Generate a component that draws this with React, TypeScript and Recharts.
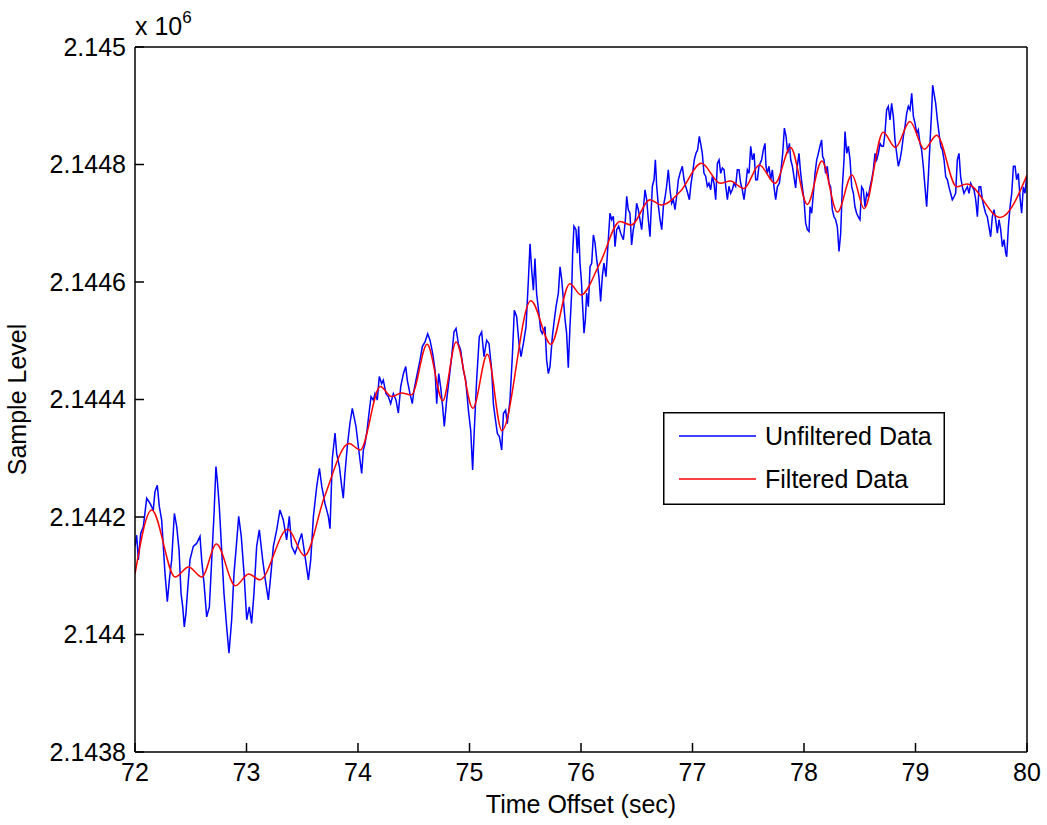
import React from 'react';
import { LineChart, Line, XAxis, YAxis, Legend, Customized } from 'recharts';

const FONT = '"Liberation Sans", Arial, Helvetica, sans-serif';

const xTicks = [72, 73, 74, 75, 76, 77, 78, 79, 80];
const yTicks = [2143800, 2144000, 2144200, 2144400, 2144600, 2144800, 2145000];

const seriesNames = ['Unfiltered Data', 'Filtered Data'];
const seriesColors = ['#0000ff', '#ff0000'];

// raw samples (sec, level)
const blueTime = [
  72.0, 72.015, 72.03, 72.051, 72.075, 72.105, 72.135, 72.164, 72.179, 72.2, 72.218, 72.239, 72.254, 72.269, 72.29,
  72.308, 72.329, 72.353, 72.374, 72.395, 72.413, 72.428, 72.442, 72.457, 72.472, 72.493, 72.523, 72.553, 72.583,
  72.598, 72.619, 72.643, 72.667, 72.688, 72.709, 72.726, 72.738, 72.756, 72.777, 72.798, 72.822, 72.843, 72.867,
  72.888, 72.906, 72.93, 72.953, 72.978, 73.002, 73.025, 73.046, 73.067, 73.091, 73.115, 73.145, 73.169, 73.196,
  73.217, 73.241, 73.271, 73.3, 73.33, 73.36, 73.384, 73.405, 73.435, 73.465, 73.495, 73.525, 73.555, 73.576, 73.6,
  73.63, 73.654, 73.675, 73.704, 73.734, 73.749,
  73.77, 73.794, 73.809, 73.833, 73.854, 73.868, 73.883, 73.904, 73.928, 73.949, 73.964, 73.982, 74.003, 74.018,
  74.033, 74.048, 74.063, 74.078, 74.099, 74.117, 74.137, 74.152, 74.173, 74.191, 74.212, 74.227, 74.251, 74.272,
  74.293, 74.317, 74.341, 74.362, 74.383, 74.407, 74.428, 74.442, 74.466, 74.487, 74.502, 74.526, 74.556, 74.577,
  74.601, 74.625, 74.646, 74.67, 74.691, 74.706, 74.724, 74.741, 74.759, 74.774, 74.795, 74.816, 74.84, 74.861,
  74.879, 74.9, 74.921, 74.945, 74.966, 74.99, 75.011, 75.028, 75.043, 75.064, 75.088, 75.109, 75.13, 75.154, 75.175,
  75.199, 75.214, 75.229, 75.25, 75.268, 75.289, 75.304, 75.324, 75.339, 75.363, 75.384, 75.402, 75.423, 75.444,
  75.462, 75.483, 75.507, 75.528, 75.543, 75.558, 75.573, 75.587, 75.602, 75.623, 75.638, 75.653, 75.677, 75.692,
  75.707,
  75.722, 75.743, 75.761, 75.776, 75.797, 75.812, 75.827, 75.842, 75.857, 75.871, 75.886, 75.901, 75.916, 75.925,
  75.937, 75.955, 75.967, 75.979, 75.991, 76.003, 76.015, 76.027, 76.039, 76.051, 76.066, 76.081, 76.096, 76.111,
  76.126, 76.141, 76.161, 76.176, 76.191, 76.206, 76.224, 76.239, 76.26, 76.275, 76.29, 76.305, 76.32, 76.338,
  76.356, 76.38, 76.398, 76.41, 76.424, 76.439, 76.454, 76.469, 76.487, 76.499, 76.514, 76.529, 76.544, 76.559,
  76.574, 76.589, 76.604, 76.619, 76.628, 76.64, 76.655, 76.667, 76.679, 76.694, 76.709, 76.724, 76.739, 76.753,
  76.768, 76.783, 76.798, 76.813, 76.828, 76.843, 76.858, 76.873, 76.888, 76.909, 76.924, 76.939, 76.957, 76.972,
  76.987, 77.001, 77.016, 77.031, 77.046, 77.061, 77.073, 77.088, 77.103, 77.118, 77.133, 77.148, 77.163, 77.178,
  77.193, 77.208, 77.223, 77.238, 77.253, 77.268, 77.283, 77.298, 77.313, 77.327, 77.342, 77.357, 77.372, 77.387,
  77.402, 77.417, 77.432, 77.447, 77.462, 77.477, 77.492, 77.507, 77.522, 77.537, 77.552, 77.567, 77.582, 77.596,
  77.62, 77.635, 77.65, 77.659, 77.671, 77.686, 77.701, 77.716, 77.731, 77.746, 77.761, 77.779, 77.794, 77.809,
  77.824, 77.839, 77.854, 77.869, 77.881, 77.896, 77.91, 77.925, 77.94, 77.955, 77.97, 77.985, 78.0, 78.015, 78.03,
  78.045, 78.054, 78.069, 78.084, 78.099, 78.114, 78.129, 78.143, 78.158, 78.167, 78.179, 78.194, 78.209, 78.224,
  78.239, 78.254, 78.269, 78.284, 78.299, 78.314, 78.329, 78.344, 78.359, 78.368, 78.383, 78.398, 78.413, 78.428,
  78.443, 78.457, 78.472, 78.487, 78.502, 78.517, 78.532, 78.547, 78.562, 78.577, 78.592, 78.607, 78.622, 78.637,
  78.652, 78.667, 78.682, 78.697, 78.712, 78.726, 78.741, 78.756, 78.771, 78.786, 78.801, 78.816, 78.831, 78.846,
  78.861, 78.876, 78.891, 78.906, 78.921, 78.936, 78.951, 78.966, 78.981, 78.996, 79.011, 79.025, 79.04, 79.055,
  79.07, 79.085, 79.1, 79.115, 79.13, 79.145, 79.154, 79.166, 79.181, 79.196, 79.211, 79.226, 79.241, 79.256, 79.271,
  79.286, 79.3, 79.315, 79.33, 79.345, 79.36, 79.375, 79.39, 79.405, 79.42, 79.435, 79.45, 79.465, 79.48, 79.495,
  79.51, 79.525, 79.54, 79.555, 79.57, 79.585, 79.6, 79.614, 79.629, 79.644, 79.659, 79.674, 79.689, 79.704, 79.719,
  79.734, 79.749, 79.764, 79.779, 79.794, 79.809, 79.818, 79.833, 79.848, 79.863, 79.878, 79.893, 79.907, 79.922,
  79.937, 79.952, 79.967, 79.982, 79.997,
];

const blueLevel = [
  2144150, 2144169, 2144127, 2144172, 2144184, 2144232, 2144223, 2144212, 2144243, 2144254, 2144218, 2144195, 2144150,
  2144104, 2144056, 2144093, 2144127, 2144206, 2144184, 2144144, 2144070, 2144047, 2144013, 2144036, 2144076, 2144127,
  2144150, 2144155, 2144167, 2144127, 2144087, 2144030, 2144047, 2144127, 2144206, 2144286, 2144263, 2144218, 2144144,
  2144070, 2144013, 2143968, 2144025, 2144104, 2144144, 2144201, 2144167, 2144104, 2144025, 2144047, 2144019, 2144070,
  2144150, 2144178, 2144127, 2144093, 2144059, 2144099, 2144150, 2144178, 2144212, 2144195, 2144161, 2144201, 2144150,
  2144138, 2144155, 2144172, 2144133, 2144093, 2144127, 2144201, 2144252, 2144283, 2144252, 2144223, 2144201, 2144180,
  2144300, 2144343, 2144308, 2144286, 2144252, 2144232, 2144274, 2144320, 2144360, 2144385, 2144371, 2144354, 2144320,
  2144297, 2144274, 2144314, 2144325, 2144343, 2144377, 2144405, 2144399, 2144410, 2144399, 2144439, 2144427, 2144433,
  2144410, 2144405, 2144393, 2144410, 2144399, 2144377, 2144422, 2144444, 2144456, 2144433, 2144410, 2144393, 2144416,
  2144439, 2144467, 2144490, 2144498, 2144512, 2144501, 2144478, 2144450, 2144393, 2144444, 2144422, 2144388, 2144354,
  2144399, 2144433, 2144473, 2144515, 2144521, 2144495, 2144484, 2144450, 2144433, 2144382, 2144347, 2144280, 2144348,
  2144433, 2144507, 2144515, 2144473, 2144501, 2144495, 2144450, 2144393, 2144371, 2144342, 2144337, 2144314, 2144376,
  2144382, 2144359, 2144399, 2144473, 2144552, 2144541, 2144495, 2144473, 2144495, 2144524, 2144603, 2144665, 2144620,
  2144586, 2144640, 2144580, 2144546, 2144518, 2144512, 2144524, 2144467, 2144444,
  2144456, 2144507, 2144536, 2144558, 2144581, 2144626, 2144604, 2144570, 2144536, 2144513, 2144454, 2144524, 2144581,
  2144649, 2144695, 2144689, 2144649, 2144695, 2144632, 2144604, 2144558, 2144513, 2144536, 2144581, 2144558, 2144626,
  2144632, 2144680, 2144666, 2144638, 2144609, 2144567, 2144609, 2144632, 2144609, 2144655, 2144717, 2144706, 2144712,
  2144660, 2144689, 2144695, 2144683, 2144672, 2144706, 2144746, 2144723, 2144717, 2144663, 2144689, 2144706, 2144734,
  2144723, 2144706, 2144689, 2144723, 2144757, 2144740, 2144706, 2144677, 2144717, 2144763, 2144774, 2144808, 2144763,
  2144729, 2144706, 2144689, 2144729, 2144743, 2144763, 2144791, 2144757, 2144734, 2144740, 2144723, 2144746, 2144774,
  2144785, 2144797, 2144774, 2144763, 2144751, 2144740, 2144768, 2144785, 2144808, 2144819, 2144825, 2144848, 2144836,
  2144819, 2144785, 2144780, 2144763, 2144768, 2144757, 2144780, 2144768, 2144740, 2144802, 2144808, 2144785, 2144794,
  2144791, 2144763, 2144740, 2144763, 2144751, 2144757, 2144768, 2144763, 2144791, 2144791, 2144768, 2144757, 2144740,
  2144763, 2144791, 2144785, 2144831, 2144808, 2144819, 2144774, 2144774, 2144797,
  2144808, 2144825, 2144836, 2144797, 2144785, 2144797, 2144774, 2144791, 2144762, 2144740, 2144762, 2144768, 2144791,
  2144819, 2144862, 2144848, 2144819, 2144836, 2144808, 2144797, 2144779, 2144760, 2144797, 2144819, 2144785, 2144762,
  2144740, 2144700, 2144689, 2144686, 2144728, 2144717, 2144751, 2144785, 2144808, 2144819, 2144831, 2144842, 2144814,
  2144808, 2144785, 2144797, 2144768, 2144762, 2144723, 2144711, 2144706, 2144694, 2144652, 2144683, 2144762, 2144808,
  2144856, 2144819, 2144831, 2144808, 2144762, 2144751, 2144728, 2144717, 2144711, 2144706, 2144762, 2144757, 2144728,
  2144751, 2144745, 2144762, 2144774, 2144791, 2144819, 2144808, 2144819, 2144836, 2144831, 2144831, 2144853, 2144893,
  2144899, 2144876, 2144904, 2144882, 2144842, 2144819, 2144797, 2144808, 2144825, 2144848, 2144865, 2144887, 2144899,
  2144893, 2144921, 2144882, 2144870, 2144853, 2144859, 2144836, 2144825, 2144797, 2144762, 2144728, 2144779, 2144836,
  2144893, 2144935, 2144921, 2144904, 2144876, 2144853, 2144831, 2144825, 2144808, 2144779, 2144774, 2144762, 2144751,
  2144740, 2144745, 2144751, 2144808, 2144819, 2144779, 2144762, 2144751, 2144757, 2144762, 2144751, 2144768, 2144762,
  2144757, 2144740, 2144711, 2144762, 2144762, 2144740, 2144728, 2144717, 2144711, 2144694, 2144677, 2144711, 2144723,
  2144706, 2144683, 2144706, 2144689, 2144660, 2144672, 2144649, 2144643, 2144694, 2144728, 2144751, 2144797, 2144797,
  2144774, 2144785, 2144745, 2144717, 2144762, 2144751, 2144779,
];

// filtered curve, turning points
const redTime = [
  72.0, 72.15, 72.36, 72.48, 72.6, 72.73, 72.9, 73.02, 73.12, 73.37, 73.52, 73.7, 73.92, 74.02, 74.2, 74.3, 74.39,
  74.48, 74.62, 74.76, 74.88, 75.03, 75.16, 75.29, 75.55, 75.73, 75.9, 76.0, 76.17, 76.35, 76.45, 76.62, 76.72,
  76.89, 77.08, 77.25, 77.34, 77.46, 77.6, 77.74, 77.88, 78.03, 78.16, 78.3, 78.43, 78.54, 78.71, 78.82, 78.95,
  79.08, 79.19, 79.37, 79.46, 79.76, 80.0,
];

const redLevel = [
  2144103, 2144212, 2144098, 2144115, 2144098, 2144154, 2144083, 2144103, 2144093, 2144179, 2144134, 2144235, 2144325,
  2144314, 2144422, 2144405, 2144411, 2144408, 2144494, 2144398, 2144498, 2144385, 2144477, 2144347, 2144568, 2144494,
  2144597, 2144578, 2144632, 2144703, 2144697, 2144740, 2144731, 2144754, 2144802, 2144768, 2144772, 2144759, 2144799,
  2144768, 2144829, 2144732, 2144806, 2144719, 2144782, 2144725, 2144855, 2144829, 2144873, 2144826, 2144850, 2144762,
  2144767, 2144710, 2144782,
];

const unfiltered = blueTime.map((t, i) => ({ t, v: blueLevel[i] }));
const filtered = redTime.map((t, i) => ({ t, v: redLevel[i] }));

const fmtY = (v: number) => String(parseFloat((v / 1e6).toFixed(4)));

const tickStyle = { fill: '#000', fontSize: 25, fontFamily: FONT };
const lineStyle = { stroke: '#000', strokeWidth: 1.5 };

const renderLegend = () => (
  <svg width={282} height={93} style={{ display: 'block' }}>
    <rect x={0.75} y={0.75} width={280.5} height={91.5} fill="#fff" stroke="#000" strokeWidth={1.5} />
    {seriesNames.map((name, i) => (
      <g key={name}>
        <line x1={16} x2={93} y1={24 + i * 43} y2={24 + i * 43} stroke={seriesColors[i]} strokeWidth={1.5} />
        <text x={102} y={33 + i * 43} fontSize={25} fontFamily={FONT} fill="#000">
          {name}
        </text>
      </g>
    ))}
  </svg>
);

const Exponent = () => (
  <text x={135} y={35} fontSize={25} fontFamily={FONT} fill="#000">
    x 10
    <tspan dy={-12} fontSize={17}>6</tspan>
  </text>
);

export default function App() {
  return (
    <div style={{ position: 'absolute', left: 0, top: 0 }}>
      <LineChart width={1047} height={825} margin={{ top: 46, right: 19, bottom: 0, left: 0 }} style={{ fontFamily: FONT }}>
        <XAxis
          dataKey="t"
          type="number"
          domain={[72, 80]}
          ticks={xTicks}
          allowDataOverflow
          height={73}
          tickSize={-9}
          tickMargin={20}
          axisLine={lineStyle}
          tickLine={lineStyle}
          tick={tickStyle}
          label={{ value: 'Time Offset (sec)', position: 'insideBottom', offset: 12, fill: '#000', fontSize: 25, fontFamily: FONT }}
        />
        {/* box edges with inward ticks, like the MATLAB frame */}
        <XAxis
          xAxisId="top"
          orientation="top"
          dataKey="t"
          type="number"
          domain={[72, 80]}
          ticks={xTicks}
          allowDataOverflow
          height={1}
          tickSize={-9}
          axisLine={lineStyle}
          tickLine={lineStyle}
          tick={false}
        />
        <YAxis
          type="number"
          domain={[2143800, 2145000]}
          ticks={yTicks}
          allowDataOverflow
          width={135}
          tickSize={-9}
          tickMargin={18}
          tickFormatter={fmtY}
          axisLine={lineStyle}
          tickLine={lineStyle}
          tick={tickStyle}
          label={{
            value: 'Sample Level',
            angle: -90,
            position: 'insideLeft',
            offset: 17,
            fill: '#000',
            fontSize: 25,
            fontFamily: FONT,
            style: { textAnchor: 'middle' },
          }}
        />
        <YAxis
          yAxisId="right"
          orientation="right"
          type="number"
          domain={[2143800, 2145000]}
          ticks={yTicks}
          allowDataOverflow
          width={1}
          tickSize={-9}
          axisLine={lineStyle}
          tickLine={lineStyle}
          tick={false}
        />
        <Line
          data={filtered}
          xAxisId="top"
          yAxisId="right"
          dataKey="v"
          stroke="none"
          dot={false}
          activeDot={false}
          legendType="none"
          isAnimationActive={false}
        />
        <Line
          data={unfiltered}
          dataKey="v"
          type="linear"
          stroke={seriesColors[0]}
          strokeWidth={1.5}
          dot={false}
          activeDot={false}
          isAnimationActive={false}
        />
        <Line
          data={filtered}
          dataKey="v"
          type="monotone"
          stroke={seriesColors[1]}
          strokeWidth={1.5}
          dot={false}
          activeDot={false}
          isAnimationActive={false}
        />
        <Legend
          layout="horizontal"
          verticalAlign="middle"
          align="center"
          wrapperStyle={{ position: 'absolute', left: 663, top: 412, width: 282, height: 93, margin: 0, padding: 0 }}
          content={renderLegend}
        />
        <Customized component={Exponent} />
      </LineChart>
    </div>
  );
}
